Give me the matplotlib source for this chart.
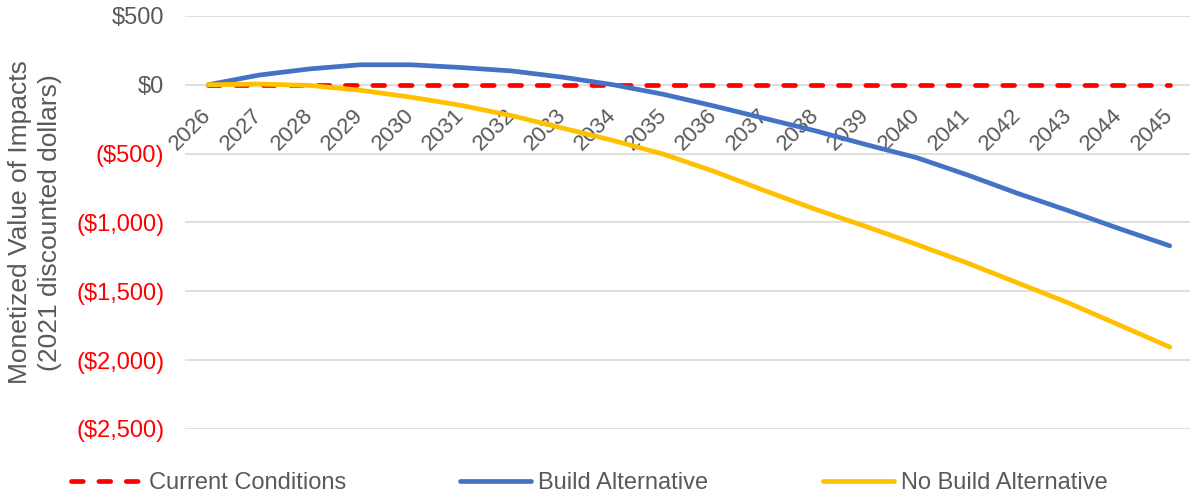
import numpy as np
import matplotlib.pyplot as plt

plt.rcParams['font.family'] = ['Liberation Sans', 'DejaVu Sans']

# years and monetized impacts (2021 discounted dollars)
years = list(range(2026, 2046))
current = [0] * 20
build = [0, 70, 115, 145, 145, 125, 100, 55, 0, -70, -155, -245, -335, -435,
         -530, -655, -790, -915, -1045, -1170]
no_build = [0, 5, -5, -40, -90, -150, -225, -315, -405, -505, -630, -770, -905,
            -1030, -1160, -1295, -1440, -1585, -1745, -1905]
yticks = [500, 0, -500, -1000, -1500, -2000, -2500]

grey = '#595959'

fig = plt.figure(figsize=(11.9, 4.97), dpi=100)
ax = fig.add_axes([0.1555, 0.137, 0.8445, 0.831])

# category axis crosses at $0
ax.spines['bottom'].set_position(('data', 0))
for s in ax.spines.values():
    s.set_visible(False)

ax.plot(years, current, color='#FF0000', lw=3.4, dashes=(2.5, 3.3),
        dash_capstyle='round', label='Current Conditions', zorder=3)
ax.plot(years, build, color='#4472C4', lw=3.4, solid_capstyle='round',
        solid_joinstyle='round', label='Build Alternative', zorder=4)
ax.plot(years, no_build, color='#FFC000', lw=3.4, solid_capstyle='round',
        solid_joinstyle='round', label='No Build Alternative', zorder=5)

ax.set_xlim(2025.54, 2045.4)
ax.set_ylim(-2500, 500)
ax.set_yticks(yticks)
ax.set_yticklabels(['$500' if v > 0 else '$0' if v == 0 else f'(${-v:,})' for v in yticks])
for lab, v in zip(ax.get_yticklabels(), yticks):
    lab.set_color('#FF0000' if v < 0 else grey)
ax.tick_params(axis='y', length=0, pad=15, labelsize=17)

ax.set_xticks(years)
ax.tick_params(axis='x', length=0, pad=20, labelsize=16, labelcolor=grey)
ax.set_xticklabels([str(y) for y in years], rotation=45, ha='right',
                   va='center', rotation_mode='anchor')

ax.grid(axis='y', color='#D9D9D9', lw=1.2)
ax.set_axisbelow(True)

ax.set_ylabel('Monetized Value of Impacts\n(2021 discounted dollars)',
              color=grey, fontsize=19, labelpad=10, linespacing=1.3)

fig.legend(loc='center', bbox_to_anchor=(0.495, 0.028), ncol=3, frameon=False,
           fontsize=17, handlelength=3.0, handletextpad=0.3,
           columnspacing=4.85, labelcolor=grey)

fig.savefig('out.png', dpi=100)
